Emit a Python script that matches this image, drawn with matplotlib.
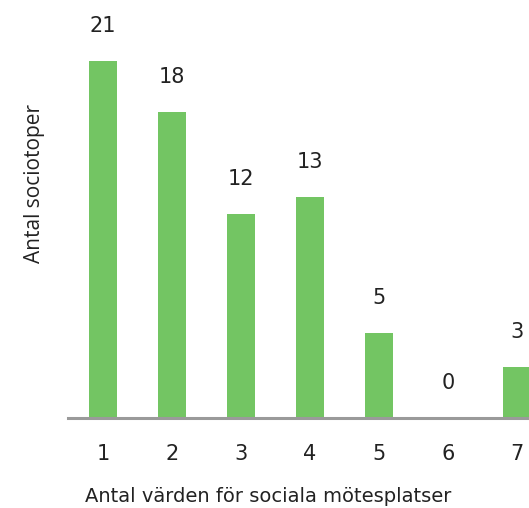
import matplotlib.pyplot as plt

# data
categories = ['1', '2', '3', '4', '5', '6', '7']
values = [21, 18, 12, 13, 5, 0, 3]

plt.rcParams['font.family'] = ['DejaVu Sans']

fig = plt.figure(figsize=(5.29, 5.08), dpi=100)
ax = fig.add_axes([68 / 529, 90 / 508, 461 / 529, 418 / 508])

x = range(1, len(values) + 1)
bars = ax.bar(x, values, width=0.406, color='#73c563')

# value labels above the bars
for xi, v in zip(x, values):
    ax.annotate(str(v), (xi, v), xytext=(0, 18), textcoords='offset points',
                ha='center', va='bottom', fontsize=15, color='#222222')

ax.set_xlim(0.493, 7.174)
ax.set_ylim(0, 24.6)
ax.set_xticks(list(x))
ax.set_xticklabels(categories, fontsize=15, color='#222222')
ax.set_yticks([])
ax.tick_params(axis='x', length=0, pad=19)

for side in ['top', 'right', 'left']:
    ax.spines[side].set_visible(False)
ax.spines['bottom'].set_color('#9a9a9a')
ax.spines['bottom'].set_linewidth(2.2)

ax.set_xlabel("Antal värden för sociala mötesplatser", fontsize=14, color='#222222', va='center')
ax.xaxis.set_label_coords(0.434, -0.187)
ax.set_ylabel("Antal sociotoper", fontsize=15, color='#222222', va='center',
              family=['Open Sans', 'DejaVu Sans'])
ax.yaxis.set_label_coords(-0.0716, 0.562)

fig.savefig('out.png', dpi=100)
